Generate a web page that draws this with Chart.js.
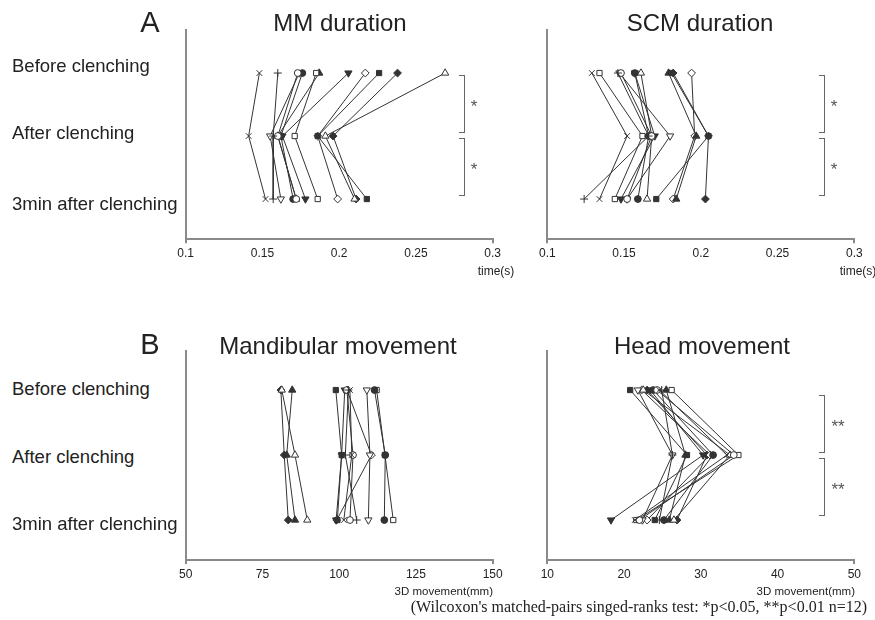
<!DOCTYPE html>
<html>
<head>
<meta charset="utf-8">
<script src="https://cdn.jsdelivr.net/npm/chart.js@4.4.1/dist/chart.umd.min.js"></script>
<style>
  html, body { margin: 0; padding: 0; background: #fff; }
  body { width: 875px; height: 620px; position: relative; overflow: hidden; font-family: "Liberation Sans", Arial, sans-serif; color: #222; }
  canvas { position: absolute; }
  .t { position: absolute; white-space: nowrap; line-height: 1; transform: translate(-50%, -50%); }
  .l { position: absolute; white-space: nowrap; line-height: 1; transform: translate(0, -50%); }
  .r { position: absolute; white-space: nowrap; line-height: 1; transform: translate(-100%, -50%); }
  .br { position: absolute; border: 1.5px solid #666; border-left: none; box-sizing: border-box; }
</style>
</head>
<body>
<script>
// ---------- data ----------
const rows = ['Before clenching', 'After clenching', '3min after clenching'];
// subjects: ×, +, ○, ●, □, ■, △, ▲, ▽, ▼, ◇, ◆
const subjects = ['S1', 'S2', 'S3', 'S4', 'S5', 'S6', 'S7', 'S8', 'S9', 'S10', 'S11', 'S12'];

const mmBefore = [0.148, 0.160, 0.173, 0.176, 0.185, 0.226, 0.269, 0.187, 0.174, 0.206, 0.217, 0.238];
const mmAfter  = [0.141, 0.157, 0.160, 0.162, 0.171, 0.186, 0.191, 0.160, 0.155, 0.163, 0.186, 0.196];
const mm3min   = [0.152, 0.157, 0.172, 0.170, 0.186, 0.218, 0.210, 0.172, 0.162, 0.178, 0.199, 0.211];

const scmBefore = [0.129, 0.146, 0.148, 0.157, 0.134, 0.181, 0.161, 0.179, 0.147, 0.157, 0.194, 0.182];
const scmAfter  = [0.152, 0.166, 0.168, 0.166, 0.162, 0.205, 0.168, 0.197, 0.180, 0.170, 0.196, 0.205];
const scm3min   = [0.134, 0.124, 0.152, 0.159, 0.144, 0.171, 0.165, 0.184, 0.152, 0.148, 0.182, 0.203];

const mandBefore = [103.5, 103.0, 102.5, 111.5, 112.2, 98.9, 81.3, 84.7, 109.0, 101.8, 102.5, 81.0];
const mandAfter  = [104.1, 102.0, 104.5, 115.0, 114.9, 100.8, 85.6, 82.9, 110.0, 100.8, 110.5, 82.1];
const mand3min   = [101.5, 105.7, 103.5, 114.7, 117.6, 99.4, 89.6, 85.6, 109.5, 99.0, 99.2, 83.4];

const headBefore = [24.6, 24.9, 24.3, 23.8, 26.2, 20.8, 22.5, 25.5, 21.8, 23.4, 22.3, 23.0];
const headAfter  = [33.4, 26.3, 34.3, 31.6, 34.9, 28.2, 33.8, 28.0, 26.3, 30.3, 31.2, 30.8];
const head3min   = [21.4, 24.6, 22.0, 25.2, 21.6, 24.0, 26.5, 25.9, 22.4, 18.3, 23.0, 26.9];

const timeTicks = [0.1, 0.15, 0.2, 0.25, 0.3];
const timeTickLabels = ['0.1', '0.15', '0.2', '0.25', '0.3'];
const mandTicks = [50, 75, 100, 125, 150];
const mandTickLabels = ['50', '75', '100', '125', '150'];
const headTicks = [10, 20, 30, 40, 50];
const headTickLabels = ['10', '20', '30', '40', '50'];

// ---------- styles ----------
const INK = '#333';
const AXIS = '#8a8a8a';
const markerStyles = [
  { s: 'crossRot', rot: 0, f: false, r: 4 },
  { s: 'cross', rot: 0, f: false, r: 4 },
  { s: 'circle', rot: 0, f: false, r: 3.4 },
  { s: 'circle', rot: 0, f: true, r: 3.4 },
  { s: 'rect', rot: 0, f: false, r: 3.7 },
  { s: 'rect', rot: 0, f: true, r: 3.7 },
  { s: 'triangle', rot: 0, f: false, r: 4.2 },
  { s: 'triangle', rot: 0, f: true, r: 4.2 },
  { s: 'triangle', rot: 180, f: false, r: 4.2 },
  { s: 'triangle', rot: 180, f: true, r: 4.2 },
  { s: 'rectRot', rot: 0, f: false, r: 3.9 },
  { s: 'rectRot', rot: 0, f: true, r: 3.9 }
];

function makeDatasets(b, a, m) {
  return subjects.map((name, i) => {
    const st = markerStyles[i];
    return {
      label: name,
      data: [{ x: b[i], y: 0 }, { x: a[i], y: 1 }, { x: m[i], y: 2 }],
      showLine: true,
      borderColor: INK,
      borderWidth: 1,
      pointStyle: st.s,
      rotation: st.rot,
      pointRadius: st.r,
      pointBorderWidth: 1,
      pointBorderColor: INK,
      pointBackgroundColor: st.f ? INK : '#fff',
      fill: false,
      tension: 0
    };
  });
}

function addCanvas(x, y, w, h) {
  const c = document.createElement('canvas');
  c.width = w; c.height = h;
  c.style.left = x + 'px'; c.style.top = y + 'px';
  c.style.width = w + 'px'; c.style.height = h + 'px';
  document.body.appendChild(c);
  return c;
}

// panel: canvas box + target chart area
function panel(cfg) {
  const { cx, cy, cw, ch, L, T, R, B, xmin, xmax, ticks, tickLabels, ymin, ymax, data } = cfg;
  const xAxisH = 25;
  const c = addCanvas(cx, cy, cw, ch);
  new Chart(c, {
    type: 'line',
    data: { datasets: makeDatasets(...data) },
    options: {
      responsive: false,
      animation: false,
      devicePixelRatio: 1,
      parsing: false,
      plugins: { legend: { display: false }, tooltip: { enabled: false } },
      layout: { padding: { left: L - cx, top: T - cy, right: cx + cw - R, bottom: cy + ch - B - xAxisH } },
      scales: {
        x: {
          type: 'linear', min: xmin, max: xmax,
          afterBuildTicks: s => { s.ticks = ticks.map(v => ({ value: v })); },
          afterFit: s => { s.height = xAxisH; },
          ticks: {
            autoSkip: false, maxRotation: 0, padding: 3,
            color: '#222',
            font: { family: '"Liberation Sans", Arial, sans-serif', size: 12 },
            callback: (v, i) => tickLabels[i]
          },
          grid: {
            display: true, drawOnChartArea: false, drawTicks: true, tickLength: 4, lineWidth: 2,
            color: ctx => (ctx.index === 0 || ctx.index === ticks.length - 1) ? AXIS : 'rgba(0,0,0,0)'
          },
          border: { display: true, color: AXIS, width: 2 }
        },
        y: {
          type: 'linear', reverse: true, min: ymin, max: ymax,
          afterFit: s => { s.width = 0; },
          ticks: { display: false },
          grid: { display: false },
          border: { display: true, color: AXIS, width: 2 }
        }
      }
    }
  });
}

const LA = 185.7, RA = 492.7, LB = 547.3, RB = 854.3;
const topA = 30, botA = 239.3, topB = 350.7, botB = 560;

panel({ cx: 150, cy: 20, cw: 370, ch: 260, L: LA, T: topA, R: RA, B: botA,
  xmin: 0.1, xmax: 0.3, ticks: timeTicks, tickLabels: timeTickLabels, ymin: -0.683, ymax: 2.639,
  data: [mmBefore, mmAfter, mm3min] });
panel({ cx: 520, cy: 20, cw: 355, ch: 260, L: LB, T: topA, R: RB, B: botA,
  xmin: 0.1, xmax: 0.3, ticks: timeTicks, tickLabels: timeTickLabels, ymin: -0.683, ymax: 2.639,
  data: [scmBefore, scmAfter, scm3min] });
panel({ cx: 150, cy: 340, cw: 370, ch: 260, L: LA, T: topB, R: RA, B: botB,
  xmin: 50, xmax: 150, ticks: mandTicks, tickLabels: mandTickLabels, ymin: -0.605, ymax: 2.615,
  data: [mandBefore, mandAfter, mand3min] });
panel({ cx: 520, cy: 340, cw: 355, ch: 260, L: LB, T: topB, R: RB, B: botB,
  xmin: 10, xmax: 50, ticks: headTicks, tickLabels: headTickLabels, ymin: -0.605, ymax: 2.615,
  data: [headBefore, headAfter, head3min] });

// ---------- text ----------
function txt(cls, s, x, y, css) {
  const d = document.createElement('div');
  d.className = cls;
  d.textContent = s;
  d.style.left = x + 'px'; d.style.top = y + 'px';
  Object.assign(d.style, css || {});
  document.body.appendChild(d);
  return d;
}
const big = { fontSize: '24px' };
txt('t', 'A', 150, 21.5, { fontSize: '29px' });
txt('t', 'B', 150, 344, { fontSize: '29px' });
txt('t', 'MM duration', 340, 23, big);
txt('t', 'SCM duration', 700, 23, big);
txt('t', 'Mandibular movement', 338, 346, big);
txt('t', 'Head movement', 702, 346, big);

const rowYA = [66, 133, 204], rowYB = [389, 457, 524];
rows.forEach((r, i) => {
  txt('l', r, 12, rowYA[i], { fontSize: '18.5px' });
  txt('l', r, 12, rowYB[i], { fontSize: '18.5px' });
});

const small = { fontSize: '12px' };
txt('t', 'time(s)', 496, 271, small);
txt('t', 'time(s)', 858, 271, small);
txt('r', '3D movement(mm)', 493, 592, { fontSize: '11.5px' });
txt('r', '3D movement(mm)', 855, 592, { fontSize: '11.5px' });
txt('r', "(Wilcoxon's matched-pairs singed-ranks test: *p<0.05, **p<0.01 n=12)", 867, 607,
  { fontSize: '16px', fontFamily: '"Liberation Serif", "Times New Roman", serif' });

// ---------- significance brackets ----------
function bracket(x, y1, y2) {
  const d = document.createElement('div');
  d.className = 'br';
  d.style.left = (x - 5) + 'px';
  d.style.top = y1 + 'px';
  d.style.width = '6px';
  d.style.height = (y2 - y1) + 'px';
  document.body.appendChild(d);
}
bracket(464, 75, 133); bracket(464, 138, 196);
bracket(824, 75, 133); bracket(824, 138, 196);
bracket(824, 395, 453); bracket(824, 458, 516);
const star = { fontSize: '17px', color: '#555' };
txt('t', '*', 474, 106, star);
txt('t', '*', 474, 169, star);
txt('t', '*', 834, 106, star);
txt('t', '*', 834, 169, star);
txt('t', '**', 838, 426, star);
txt('t', '**', 838, 489, star);
</script>
</body>
</html>
